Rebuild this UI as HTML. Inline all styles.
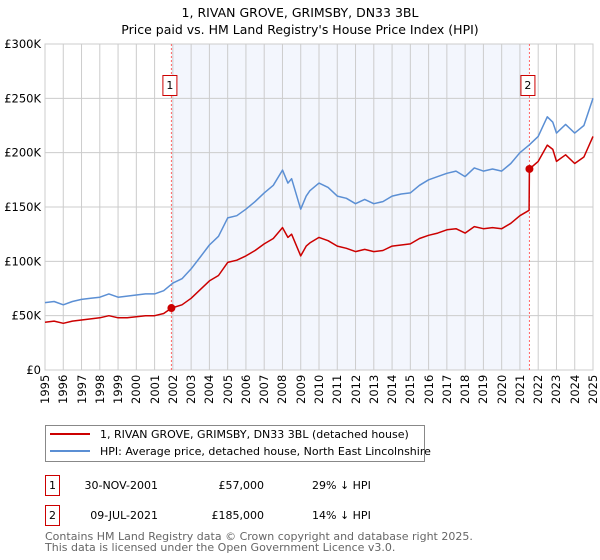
<!DOCTYPE html>
<html><head><meta charset="utf-8">
<style>
body{margin:0;background:#fff;width:600px;height:560px;overflow:hidden;position:relative;font-family:"DejaVu Sans","Liberation Sans",sans-serif;}
svg text{font-family:"DejaVu Sans","Liberation Sans",sans-serif;}
#chart{position:absolute;left:0;top:0;}
.xl{position:absolute;top:375px;width:14px;height:40px;font-size:11.5px;line-height:14px;writing-mode:vertical-rl;transform:rotate(180deg);text-align:right;color:#000;white-space:nowrap;}
</style></head>
<body>
<svg id="chart" width="600" height="560" xmlns="http://www.w3.org/2000/svg">
<text x="300" y="17" text-anchor="middle" font-size="12.5" fill="#000">1, RIVAN GROVE, GRIMSBY, DN33 3BL</text>
<text x="300" y="34" text-anchor="middle" font-size="12.5" fill="#000">Price paid vs. HM Land Registry's House Price Index (HPI)</text>
<g id="plot"></g>
<g>
<rect x="45.5" y="425.5" width="379" height="36" fill="#fff" stroke="#888"/>
<line x1="50" y1="434" x2="90" y2="434" stroke="#cc0000" stroke-width="2"/>
<text x="100" y="438" font-size="11">1, RIVAN GROVE, GRIMSBY, DN33 3BL (detached house)</text>
<line x1="50" y1="451" x2="90" y2="451" stroke="#5b8fd4" stroke-width="2"/>
<text x="100" y="455" font-size="11">HPI: Average price, detached house, North East Lincolnshire</text>
</g>
<g>
<rect x="45.5" y="475.5" width="14" height="20" fill="#fff" stroke="#cc0000"/>
<text x="52.5" y="489" font-size="11" text-anchor="middle">1</text>
<text x="158" y="489" font-size="11" text-anchor="end">30-NOV-2001</text>
<text x="264" y="489" font-size="11" text-anchor="end">£57,000</text>
<text x="312" y="489" font-size="11">29% ↓ HPI</text>
</g>
<g>
<rect x="45.5" y="505.5" width="14" height="20" fill="#fff" stroke="#cc0000"/>
<text x="52.5" y="519" font-size="11" text-anchor="middle">2</text>
<text x="158" y="519" font-size="11" text-anchor="end">09-JUL-2021</text>
<text x="264" y="519" font-size="11" text-anchor="end">£185,000</text>
<text x="312" y="519" font-size="11">14% ↓ HPI</text>
</g>
<text x="45" y="540" font-size="11" fill="#666">Contains HM Land Registry data © Crown copyright and database right 2025.</text>
<text x="45" y="551" font-size="11" fill="#666">This data is licensed under the Open Government Licence v3.0.</text>
</svg>
<div id="xlabels"></div>
<script>
const hpiYears=[1995,1995.5,1996,1996.5,1997,1997.5,1998,1998.5,1999,1999.5,2000,2000.5,2001,2001.5,2002,2002.5,2003,2003.5,2004,2004.5,2005,2005.5,2006,2006.5,2007,2007.5,2008,2008.3,2008.5,2009,2009.3,2009.5,2010,2010.5,2011,2011.5,2012,2012.5,2013,2013.5,2014,2014.5,2015,2015.5,2016,2016.5,2017,2017.5,2018,2018.5,2019,2019.5,2020,2020.5,2021,2021.5,2022,2022.5,2022.8,2023,2023.5,2024,2024.5,2025];
const hpiValues=[62,63,60,63,65,66,67,70,67,68,69,70,70,73,80,84,93,104,115,123,140,142,148,155,163,170,184,172,176,148,160,165,172,168,160,158,153,157,153,155,160,162,163,170,175,178,181,183,178,186,183,185,183,190,200,207,215,233,228,218,226,218,225,250];
const redYears=[1995,1995.5,1996,1996.5,1997,1997.5,1998,1998.5,1999,1999.5,2000,2000.5,2001,2001.5,2001.92,2002.5,2003,2003.5,2004,2004.5,2005,2005.5,2006,2006.5,2007,2007.5,2008,2008.3,2008.5,2009,2009.3,2009.5,2010,2010.5,2011,2011.5,2012,2012.5,2013,2013.5,2014,2014.5,2015,2015.5,2016,2016.5,2017,2017.5,2018,2018.5,2019,2019.5,2020,2020.5,2021,2021.5,2021.52,2022,2022.5,2022.8,2023,2023.5,2024,2024.5,2025];
const redValues=[44,45,43,45,46,47,48,50,48,48,49,50,50,52,57,60,66,74,82,87,99,101,105,110,116,121,131,122,125,105,114,117,122,119,114,112,109,111,109,110,114,115,116,121,124,126,129,130,126,132,130,131,130,135,142,147,185,192,207,203,192,198,190,196,215];
const saleYears=[2001.92,2021.52];
const saleValues=[57,185];
const saleLabels=["1","2"];
const yTicks=[0,50,100,150,200,250,300];
const yTickLabels=["£0","£50K","£100K","£150K","£200K","£250K","£300K"];
const xTicks=[1995,1996,1997,1998,1999,2000,2001,2002,2003,2004,2005,2006,2007,2008,2009,2010,2011,2012,2013,2014,2015,2016,2017,2018,2019,2020,2021,2022,2023,2024,2025];

const L=45,R=593,T=44,B=370;
const xs=y=>L+(y-1995)/30*(R-L);
const ys=v=>B-v/300*(B-T);
const NS="http://www.w3.org/2000/svg";
const g=document.getElementById('plot');
function mk(tag,attrs){const e=document.createElementNS(NS,tag);for(const k in attrs)e.setAttribute(k,attrs[k]);g.appendChild(e);return e;}

let e=mk('rect',{x:xs(saleYears[0]),y:T,width:xs(saleYears[1])-xs(saleYears[0]),height:B-T,fill:'#eef2fc',opacity:0.7});



yTicks.forEach((t,i)=>{
  const l=mk('line',{x1:L,x2:R,y1:ys(t),y2:ys(t),stroke:'#cccccc','stroke-width':1});
  
  
  const tx=mk('text',{x:L-4,y:ys(t)+4,'text-anchor':'end','font-size':11.5,fill:'#000'});
  tx.textContent=yTickLabels[i];
  
  
});
const xl=document.getElementById('xlabels');
xTicks.forEach(t=>{
  const l=mk('line',{x1:xs(t),x2:xs(t),y1:T,y2:B,stroke:'#cccccc','stroke-width':1});
  
  
  const d=document.createElement('div');
  d.className='xl';
  d.style.left=(xs(t)-7)+'px';
  d.textContent=t;
  
  
  xl.appendChild(d);
});
e=mk('rect',{x:L,y:T,width:R-L,height:B-T,fill:'none',stroke:'#cccccc'});



saleYears.forEach((y,i)=>{
  const l=mk('line',{x1:xs(y),x2:xs(y),y1:T,y2:B,stroke:'#ff6666','stroke-width':1,'stroke-dasharray':'2,2'});
  
  
});

function path(xa,va,color,name){
  const d=xa.map((x,i)=>(i?'L':'M')+xs(x).toFixed(1)+','+ys(va[i]).toFixed(1)).join('');
  const p=mk('path',{d:d,fill:'none',stroke:color,'stroke-width':1.5,'stroke-linejoin':'round'});
  
  
}
path(hpiYears,hpiValues,'#5b8fd4','hpi-line');
path(redYears,redValues,'#cc0000','price-paid-line');

saleYears.forEach((y,i)=>{
  const c=mk('circle',{cx:xs(y),cy:ys(saleValues[i]),r:4,fill:'#cc0000'});
  
  
  const bx=xs(y)-8;
  const b=mk('rect',{x:bx-0.5,y:75.5,width:14,height:20,fill:'#fff',stroke:'#cc0000'});
  
  
  const t=mk('text',{x:bx+6.5,y:89,'text-anchor':'middle','font-size':11,fill:'#000'});
  t.textContent=saleLabels[i];
  
  
});
</script>
</body></html>
